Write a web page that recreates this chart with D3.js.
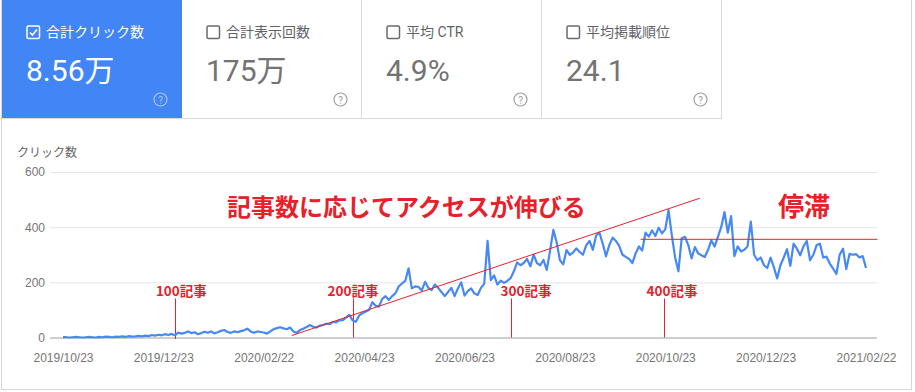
<!DOCTYPE html>
<html lang="ja">
<head>
<meta charset="utf-8">
<title>Search Console clicks</title>
<style>
  body { margin: 0; background: #fff; }
  svg { display: block; font-family: Roboto, "Noto Sans CJK JP", sans-serif; }
  .grid line { stroke: #e6e6e6; stroke-width: 1px; }
  .axis text { fill: #757575; font-size: 12px; }
  .clicks { fill: none; stroke: #4788f5; stroke-width: 2.2px; stroke-linejoin: round; }
  .noteText { fill: #e8202a; font-weight: bold; font-family: "Noto Sans CJK JP", sans-serif; }
</style>
</head>
<body>
<svg width="915" height="392"></svg>
<script src="https://d3js.org/d3.v7.min.js"></script>
<script>

// summary cards
var cardTitles = ["合計クリック数", "合計表示回数", "平均 CTR", "平均掲載順位"];
var cardValues = ["8.56万", "175万", "4.9%", "24.1"];

// daily clicks, one value every 2 days from 2019/10/23
var startDate = "2019/10/23";
var stepDays = 2;
var clicks = [
  1,1,0,1,2,1,0,1,2,1,
  0,2,1,3,2,1,3,2,4,2,
  5,3,4,6,4,7,5,9,7,10,
  8,12,9,13,8,18,14,17,22,16,
  19,12,16,21,17,22,15,19,24,27,
  20,17,22,19,23,26,32,22,17,22,
  20,18,14,22,30,34,37,33,30,36,
  22,17,27,32,38,45,39,36,43,45,
  50,48,57,55,62,63,72,82,62,57,
  80,88,94,100,128,115,112,140,150,136,
  150,160,185,196,205,251,178,185,184,170,
  202,180,172,192,180,165,150,165,180,150,
  178,200,152,168,178,160,154,180,195,350,
  208,225,192,206,198,205,215,240,272,262,
  270,285,258,300,270,262,281,245,315,390,
  345,280,265,317,300,308,323,310,300,335,
  350,318,370,380,340,295,335,362,350,332,
  300,292,285,270,305,330,315,380,366,388,
  368,398,378,392,462,370,290,240,360,365,
  335,287,328,305,298,292,318,352,330,365,
  400,455,380,440,295,330,312,318,330,420,
  300,280,290,262,252,290,255,214,262,290,
  320,260,340,322,298,330,350,280,300,335,
  340,290,293,268,250,230,300,322,248,303,
  300,302,290,295,252
];

var xTickLabels = ["2019/10/23", "2019/12/23", "2020/02/22", "2020/04/23", "2020/06/23",
                   "2020/08/23", "2020/10/23", "2020/12/23", "2021/02/22"];
var yTicks = [0, 200, 400, 600];

// article count markers
var markerLabels = ["100記事", "200記事", "300記事", "400記事"];
var markerDates = ["2019/12/30", "2020/04/16", "2020/07/21", "2020/10/22"];

// hand drawn notes
var trendPoints = [["2020/03/10", 7], ["2020/11/13", 505]];
var flatPoints = [["2020/10/08", 356], ["2021/03/01", 356]];
var trendText = "記事数に応じてアクセスが伸びる";
var flatText = "停滞";

var red = "#e8202a";
var parse = d3.timeParse("%Y/%m/%d");
var fmt = d3.timeFormat("%Y/%m/%d");
var t0 = parse(startDate);
var plotData = clicks.map(function(v, i) { return [d3.timeDay.offset(t0, i * stepDays), v]; });

var svg = d3.select("svg");

// ---- cards ----
var cardW = 180, cardH = 119, cardX0 = 2;

svg.append("rect").attr("x", 1.5).attr("y", -1).attr("width", 910).attr("height", 390.5)
   .attr("fill", "none").attr("stroke", "#d6d6d6");

var cards = svg.selectAll("g.card").data(cardTitles).enter().append("g")
   .attr("class", "card")
   .attr("transform", function(d, i) { return "translate(" + (cardX0 + i * cardW) + ",0)"; });

cards.append("rect").attr("width", cardW).attr("height", cardH)
   .attr("fill", function(d, i) { return i == 0 ? "#4285f4" : "#fff"; });

cards.filter(function(d, i) { return i > 0; }).append("line")
   .attr("x1", cardW - 0.5).attr("x2", cardW - 0.5).attr("y1", 0).attr("y2", cardH)
   .attr("stroke", "#dadada");

svg.append("line").attr("x1", 0).attr("x2", cardX0 + 4 * cardW).attr("y1", cardH - 0.5).attr("y2", cardH - 0.5)
   .attr("stroke", "#dadada");

cards.append("rect").attr("x", 25).attr("y", 26).attr("width", 12.5).attr("height", 12.5).attr("rx", 1.5)
   .attr("fill", "none").attr("stroke-width", 1.5)
   .attr("stroke", function(d, i) { return i == 0 ? "#fff" : "#6b6b6b"; });

cards.filter(function(d, i) { return i == 0; }).append("path")
   .attr("d", "M28,32.5 L30.5,35 L35,29.5")
   .attr("fill", "none").attr("stroke", "#fff").attr("stroke-width", 1.6);

cards.append("text").attr("x", 44).attr("y", 37)
   .style("font-size", "14px")
   .attr("fill", function(d, i) { return i == 0 ? "#fff" : "#5f6368"; })
   .text(function(d) { return d; });

cards.append("text").attr("x", 24).attr("y", 81)
   .data(cardValues)
   .style("font-size", "30px")
   .attr("fill", function(d, i) { return i == 0 ? "#fff" : "#737373"; })
   .text(function(d) { return d; });

cards.append("circle").attr("cx", 158.5).attr("cy", 99.5).attr("r", 6.5)
   .attr("fill", "none").attr("stroke-width", 1.2)
   .attr("stroke", function(d, i) { return i == 0 ? "#a9c5f8" : "#9e9e9e"; });

cards.append("text").attr("x", 158.5).attr("y", 103.5)
   .attr("text-anchor", "middle").style("font-size", "10px")
   .attr("fill", function(d, i) { return i == 0 ? "#a9c5f8" : "#9e9e9e"; })
   .text("?");

// ---- chart ----
var xScale = d3.scaleTime()
   .domain([parse(xTickLabels[0]), parse(xTickLabels[xTickLabels.length - 1])])
   .range([63, 866]);

var yScale = d3.scaleLinear().domain([0, 600]).range([337.5, 172]);

var gridLeft = 50, gridRight = 877;

svg.append("text").attr("x", 17).attr("y", 157)
   .style("font-size", "12px").attr("fill", "#666")
   .text("クリック数");

var yAxis = d3.axisLeft(yScale).tickValues(yTicks)
   .tickSize(-(gridRight - gridLeft)).tickPadding(5);

var gy = svg.append("g").attr("class", "axis grid")
   .attr("transform", "translate(" + gridLeft + ",0)")
   .call(yAxis);
gy.select(".domain").remove();
gy.selectAll(".tick line").filter(function(d) { return d == 0; })
   .style("stroke", "#9e9e9e");

var xAxis = d3.axisBottom(xScale)
   .tickValues(xTickLabels.map(parse))
   .tickFormat(fmt)
   .tickSize(0).tickPadding(16);

var gx = svg.append("g").attr("class", "axis")
   .attr("transform", "translate(0," + yScale(0) + ")")
   .call(xAxis);
gx.select(".domain").remove();

// marker lines
markerDates.forEach(function(d, i) {
  var mx = Math.round(xScale(parse(d))) + 0.5;
  svg.append("line")
     .attr("stroke", red).attr("stroke-width", 1)
     .attr("x1", mx).attr("x2", mx)
     .attr("y1", yScale(0) - 39).attr("y2", yScale(0) + (i == 0 ? 1.5 : 0));
});

var line = d3.line()
   .x(function(d) { return xScale(d[0]); })
   .y(function(d) { return yScale(d[1]); });

svg.append("path").attr("class", "clicks").attr("d", line(plotData));

var noteLine = d3.line()
   .x(function(d) { return xScale(parse(d[0])); })
   .y(function(d) { return yScale(d[1]); });

svg.append("path").attr("fill", "none").attr("stroke", red).attr("d", noteLine(trendPoints));
svg.append("path").attr("fill", "none").attr("stroke", red).attr("d", noteLine(flatPoints));

// marker labels
var labelOffset = [-19, -25, -10, -17];
svg.selectAll("text.marker").data(markerLabels).enter().append("text")
   .attr("class", "noteText marker")
   .attr("x", function(d, i) { return xScale(parse(markerDates[i])) + labelOffset[i]; })
   .attr("y", 296)
   .style("font-size", "13.5px")
   .text(function(d) { return d; });

svg.append("text").attr("class", "noteText")
   .attr("x", 227).attr("y", 216)
   .style("font-size", "24px")
   .text(trendText);

svg.append("text").attr("class", "noteText")
   .attr("x", 778).attr("y", 216)
   .style("font-size", "26px")
   .text(flatText);

</script>
</body>
</html>
